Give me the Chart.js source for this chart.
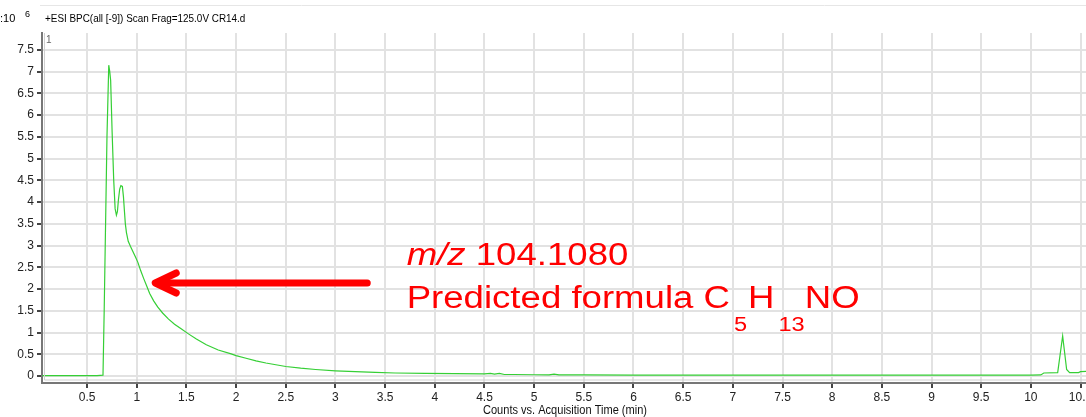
<!DOCTYPE html>
<html>
<head>
<meta charset="utf-8">
<script src="https://cdn.jsdelivr.net/npm/chart.js@4.4.1/dist/chart.umd.min.js"></script>
<style>
  html, body { margin: 0; padding: 0; background: #fff; }
  #wrap { width: 1086px; height: 417px; position: relative; }
</style>
</head>
<body>
<div id="wrap"><canvas id="bpcChart"></canvas></div>
<script>
// Base peak chromatogram, counts in units of 10^6
const retentionTime = [
    0.05, 0.30, 0.60, 0.660, 0.672, 0.700, 0.718, 0.728, 0.737, 0.752,
    0.768, 0.782, 0.795, 0.805, 0.815, 0.828, 0.840, 0.855, 0.866, 0.875,
    0.885, 0.896, 0.914, 0.937, 0.962, 0.987, 1.010, 1.040, 1.070, 1.100,
    1.130, 1.170, 1.210, 1.260, 1.320, 1.380, 1.450, 1.520, 1.600, 1.700,
    1.820, 1.950, 2.000, 2.100, 2.200, 2.300, 2.400, 2.500, 2.650, 2.800,
    3.000, 3.200, 3.400, 3.600, 3.900, 4.200, 4.500, 4.560, 4.600, 4.650,
    4.700, 4.800, 5.000, 5.150, 5.200, 5.250, 5.500, 6.000, 6.500, 7.000,
    8.000, 9.000, 10.000, 10.100, 10.130, 10.270, 10.320, 10.360, 10.390, 10.480,
    10.500, 10.560
];
const intensity = [
    0.01, 0.01, 0.01, 0.02, 1.50, 5.50, 7.15, 7.00, 6.80, 5.60,
    4.50, 3.85, 3.70, 3.78, 4.05, 4.30, 4.38, 4.36, 4.12, 3.82,
    3.50, 3.30, 3.10, 2.98, 2.86, 2.74, 2.62, 2.42, 2.24, 2.07,
    1.90, 1.73, 1.59, 1.45, 1.31, 1.19, 1.08, 0.97, 0.85, 0.72,
    0.60, 0.51, 0.47, 0.41, 0.35, 0.30, 0.26, 0.22, 0.18, 0.15,
    0.12, 0.10, 0.085, 0.07, 0.06, 0.055, 0.048, 0.06, 0.045, 0.06,
    0.035, 0.035, 0.03, 0.025, 0.045, 0.025, 0.025, 0.022, 0.02, 0.02,
    0.02, 0.02, 0.02, 0.025, 0.07, 0.08, 0.92, 0.15, 0.08, 0.08,
    0.10, 0.11
];

const xMin = 0.046, xMax = 10.555;
const yMin = -0.16, yMax = 7.89;

const points = retentionTime.map(function(t, i) {
    return { x: t, y: intensity[i] };
});

function fmt(v) {
    return String(+v.toFixed(2));
}

// Header text, trace number, axis title and the red callout
const overlayPlugin = {
    id: 'overlay',
    afterDraw: function(chart) {
        const ctx = chart.ctx;
        const xs = chart.scales.x;
        const ys = chart.scales.y;
        const area = chart.chartArea;
        ctx.save();

        // faint frame line along the top
        ctx.strokeStyle = '#e6e6e6';
        ctx.lineWidth = 1;
        ctx.beginPath();
        ctx.moveTo(40, 5.5);
        ctx.lineTo(1086, 5.5);
        ctx.stroke();

        // light inner edge next to the axis lines
        ctx.strokeStyle = '#d0d0d0';
        ctx.beginPath();
        ctx.moveTo(area.left + 2.5, area.top);
        ctx.lineTo(area.left + 2.5, area.bottom - 3);
        ctx.lineTo(area.right, area.bottom - 3);
        ctx.stroke();

        ctx.fillStyle = '#000';
        ctx.textBaseline = 'alphabetic';
        ctx.textAlign = 'left';
        ctx.font = '11px Arial, "Liberation Sans", sans-serif';
        ctx.fillText(':10', 0, 22);
        ctx.font = '9px Arial, "Liberation Sans", sans-serif';
        ctx.fillText('6', 25, 17);
        ctx.save();
        ctx.translate(45, 0);
        ctx.scale(0.9, 1);
        ctx.font = '11px Arial, "Liberation Sans", sans-serif';
        ctx.fillText('+ESI BPC(all [-9]) Scan Frag=125.0V CR14.d', 0, 22);
        ctx.restore();

        ctx.fillStyle = '#666';
        ctx.font = '10px Arial, "Liberation Sans", sans-serif';
        ctx.fillText('1', area.left + 4, area.top + 10);

        ctx.fillStyle = '#111';
        ctx.font = '12px Arial, "Liberation Sans", sans-serif';
        ctx.textAlign = 'center';
        ctx.save();
        ctx.translate(565, 0);
        ctx.scale(0.92, 1);
        ctx.fillText('Counts vs. Acquisition Time (min)', 0, 414);
        ctx.restore();

        // arrow pointing at the main peak tail
        const tipX = xs.getPixelForValue(1.186);
        const tipY = ys.getPixelForValue(2.14);
        const tailX = xs.getPixelForValue(3.32);
        ctx.strokeStyle = '#ff0000';
        ctx.lineWidth = 7;
        ctx.lineCap = 'round';
        ctx.lineJoin = 'round';
        ctx.beginPath();
        ctx.moveTo(tailX, tipY);
        ctx.lineTo(tipX + 6, tipY);
        ctx.stroke();
        ctx.beginPath();
        ctx.moveTo(tipX + 21, tipY - 10);
        ctx.lineTo(tipX, tipY);
        ctx.lineTo(tipX + 21, tipY + 10);
        ctx.stroke();

        // callout text, slightly widened
        const sx = 1.18;
        const tx = xs.getPixelForValue(3.717);
        const line1 = ys.getPixelForValue(2.55);
        const line2 = ys.getPixelForValue(1.56);
        const sub = line2 + 23;
        ctx.fillStyle = '#ff0000';
        ctx.textAlign = 'left';
        ctx.translate(tx, 0);
        ctx.scale(sx, 1);
        let cx = 0;
        const big = '31px Arial, "Liberation Sans", sans-serif';
        const small = '20px Arial, "Liberation Sans", sans-serif';
        ctx.font = 'italic ' + big;
        ctx.fillText('m/z', cx, line1);
        cx += ctx.measureText('m/z').width;
        ctx.font = big;
        ctx.fillText(' 104.1080', cx, line1);

        const parts = [
            ['Predicted formula C', big, line2, 4],
            ['5', small, sub, 1],
            ['H', big, line2, 4],
            ['13', small, sub, 0],
            ['NO', big, line2, 0]
        ];
        cx = 0;
        parts.forEach(function(p) {
            ctx.font = p[1];
            ctx.fillText(p[0], cx, p[2]);
            cx += ctx.measureText(p[0]).width + p[3] / sx;
        });
        ctx.restore();
    }
};

new Chart(document.getElementById('bpcChart'), {
    type: 'line',
    data: {
        datasets: [{
            data: points,
            borderColor: '#35cf35',
            borderWidth: 1.2,
            pointRadius: 0,
            tension: 0,
            fill: false
        }]
    },
    options: {
        responsive: true,
        maintainAspectRatio: false,
        animation: false,
        layout: { padding: { top: 33, left: 0, right: 0, bottom: 0 } },
        plugins: {
            legend: { display: false },
            tooltip: { enabled: false }
        },
        scales: {
            x: {
                type: 'linear',
                min: xMin,
                max: xMax,
                afterFit: function(s) {
                    s.height = 34;
                    s.paddingLeft = 0;
                    s.paddingRight = 0;
                },
                ticks: {
                    stepSize: 0.5,
                    includeBounds: false,
                    autoSkip: false,
                    maxRotation: 0,
                    padding: 2,
                    color: '#222',
                    font: { family: 'Arial, "Liberation Sans", sans-serif', size: 12 },
                    callback: fmt
                },
                grid: {
                    color: '#e2e2e2',
                    lineWidth: 2,
                    tickColor: '#444',
                    tickLength: 5
                },
                border: { color: '#777', width: 2 }
            },
            y: {
                type: 'linear',
                min: yMin,
                max: yMax,
                afterFit: function(s) {
                    s.width = 42;
                    s.paddingTop = 0;
                    s.paddingBottom = 0;
                },
                ticks: {
                    stepSize: 0.5,
                    includeBounds: false,
                    autoSkip: false,
                    padding: 3,
                    color: '#222',
                    font: { family: 'Arial, "Liberation Sans", sans-serif', size: 12 },
                    callback: fmt
                },
                grid: {
                    color: '#e2e2e2',
                    lineWidth: 2,
                    tickColor: '#444',
                    tickLength: 5
                },
                border: { color: '#777', width: 2 }
            }
        }
    },
    plugins: [overlayPlugin]
});
</script>
</body>
</html>
